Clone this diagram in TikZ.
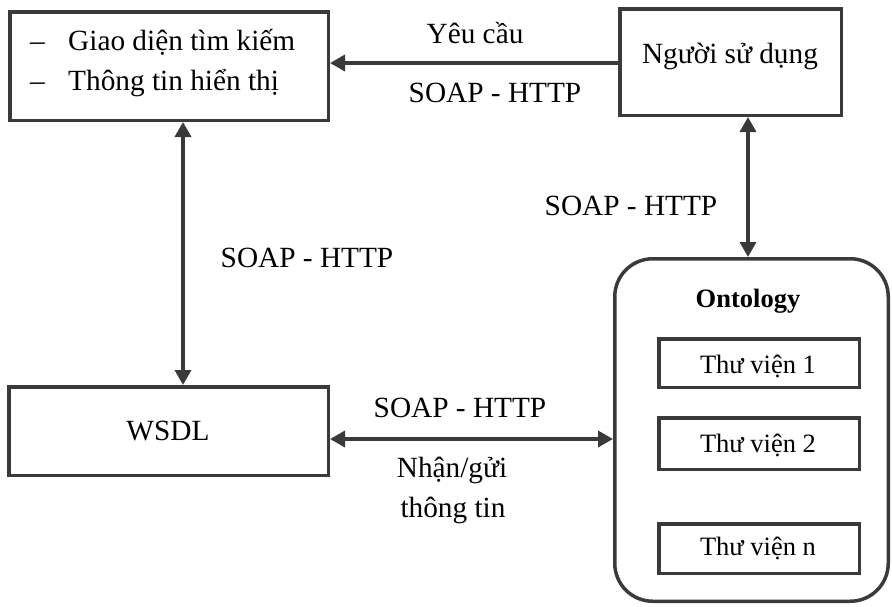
\documentclass[tikz,border=0pt]{standalone}
\usepackage{fontspec}
\setmainfont{Liberation Serif}
\usetikzlibrary{arrows.meta}
\definecolor{ink}{HTML}{3A3A3A}
\begin{document}
\begin{tikzpicture}[x=1pt,y=-1pt,
  box/.style={draw=ink, line width=3.5pt, rectangle, inner sep=0pt},
  txt/.style={anchor=base, inner sep=0pt, font=\fontsize{29.3}{34}\selectfont},
  small/.style={anchor=base, inner sep=0pt, font=\fontsize{26.5}{30}\selectfont},
  link/.style={draw=ink, line width=3.5pt, -{Triangle[length=15pt,width=16pt]}},
  both/.style={draw=ink, line width=3.5pt, {Triangle[length=15pt,width=16pt]}-{Triangle[length=15pt,width=16pt]}},
]
\useasboundingbox (0,0) rectangle (892,606);

% boxes
\node[box, minimum width=318.5pt, minimum height=108.5pt] (tl) at (169,66) {};
\node[box, minimum width=221.5pt, minimum height=106.5pt] (user) at (730.5,62) {};
\node[box, minimum width=319.5pt, minimum height=88.5pt] (wsdl) at (168.5,431) {};
\node[box, rounded corners=38pt, minimum width=273.5pt, minimum height=342.5pt] (onto) at (751.5,430) {};
\node[box, minimum width=200.5pt, minimum height=48.5pt] (lib1) at (759,363) {};
\node[box, minimum width=200.5pt, minimum height=51.5pt] (lib2) at (759,443.5) {};
\node[box, minimum width=200.5pt, minimum height=49.5pt] (libn) at (759,548.5) {};

% box texts
\node[txt] (dash1) at (37.5,50) {–};
\node[txt, anchor=base west] (item1) at (68,50) {Giao diện tìm kiếm};
\node[txt] (dash2) at (37.5,90) {–};
\node[txt, anchor=base west] (item2) at (68,90) {Thông tin hiển thị};
\node[txt] (usertext) at (730,63) {Người sử dụng};
\node[txt] (wsdltext) at (168,440) {WSDL};
\node[small, font=\fontsize{26.5}{30}\selectfont\bfseries] (ontotext) at (748,307) {Ontology};
\node[small] (lib1text) at (758,373) {Thư viện 1};
\node[small] (lib2text) at (758,452) {Thư viện 2};
\node[small] (libntext) at (758,555) {Thư viện n};

% connectors
\coordinate (ytop) at (0,63);
\coordinate (xleft) at (183,0);
\coordinate (xright) at (748,0);
\coordinate (ybot) at (0,439);
\draw[link] (user.west |- ytop) -- (tl.east |- ytop);
\draw[both] (tl.south -| xleft) -- (wsdl.north -| xleft);
\draw[both] (user.south -| xright) -- (onto.north -| xright);
\draw[both] (wsdl.east |- ybot) -- (onto.west |- ybot);

% connector labels
\node[txt] (reqlabel) at (475,43) {Yêu cầu};
\node[txt] (toplabel) at (495,102) {SOAP - HTTP};
\node[txt] (rightlabel) at (631,215) {SOAP - HTTP};
\node[txt] (leftlabel) at (307,267) {SOAP - HTTP};
\node[txt] (botlabel) at (460,417) {SOAP - HTTP};
\node[txt] (recvlabel1) at (452,477) {Nhận/gửi};
\node[txt] (recvlabel2) at (453,517) {thông tin};
\end{tikzpicture}
\end{document}
